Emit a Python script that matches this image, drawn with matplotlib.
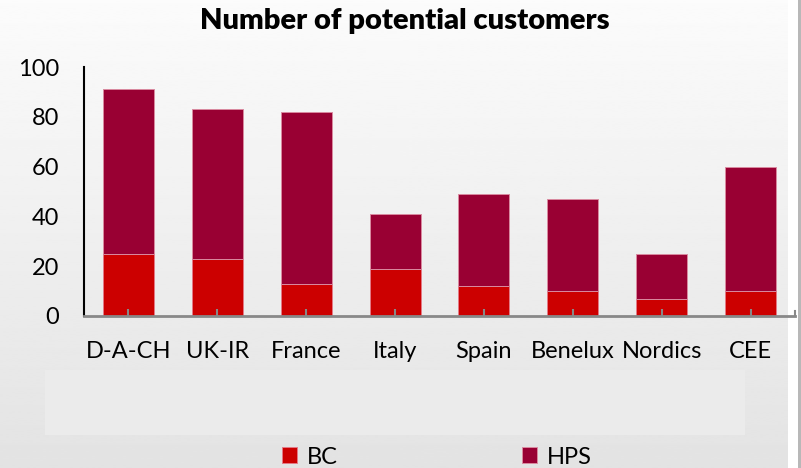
import numpy as np
import matplotlib
matplotlib.use("Agg")
from matplotlib import pyplot as plt
from matplotlib.patches import Rectangle

regions = ["D-A-CH", "UK-IR", "France", "Italy", "Spain", "Benelux", "Nordics", "CEE"]
bc = [25, 23, 13, 19, 12, 10, 7, 10]
hps = [66, 60, 69, 22, 37, 37, 18, 50]
y_ticks = [0, 20, 40, 60, 80, 100]

plt.rcParams['font.family'] = ['Lato', 'DejaVu Sans']

fig = plt.figure(figsize=(8.01, 4.68), dpi=100)

# background gradient (light at top, grey at bottom)
bg = fig.add_axes([0, 0, 788 / 801, 1], zorder=-10)
grad = np.linspace(0.985, 0.89, 256).reshape(-1, 1)
bg.imshow(grad, aspect='auto', cmap='gray', vmin=0, vmax=1, extent=[0, 1, 0, 1])
bg.axis('off')
fig.add_artist(Rectangle((798 / 801, 0), 3 / 801, 1, transform=fig.transFigure,
                         facecolor='#b8b8b8', edgecolor='none', zorder=-9))

# lighter box under the category labels
fig.add_artist(Rectangle((45 / 801, 1 - 435 / 468), 700 / 801, 65 / 468,
                         transform=fig.transFigure, facecolor='#ebebeb',
                         edgecolor='none', zorder=-5))

ax = fig.add_axes([84 / 801, 1 - 316 / 468, 711 / 801, 249 / 468])
ax.patch.set_alpha(0)

x = np.arange(len(regions))
w = 0.575
b1 = ax.bar(x, bc, w, color='#cc0000', edgecolor='#e47a86', linewidth=0.7, label='BC')
b2 = ax.bar(x, hps, w, bottom=bc, color='#990033', edgecolor='#d98aa0', linewidth=0.7, label='HPS')

ax.set_xlim(-0.5, len(regions) - 0.5)
ax.set_ylim(0, 100)
ax.set_yticks(y_ticks)
ax.set_xticks(x)
ax.set_xticklabels(regions)
ax.tick_params(axis='y', length=0, pad=18, labelsize=17)
ax.tick_params(axis='x', direction='in', length=5, width=1.5, color='#888888',
               pad=18, labelsize=17)
# tick at right end of axis
ax.plot([len(regions) - 0.5] * 2, [0, 2.2], color='#888888', lw=1.5, clip_on=False)

for s in ['top', 'right']:
    ax.spines[s].set_visible(False)
ax.spines['left'].set_linewidth(1.5)
ax.spines['left'].set_color('black')
ax.spines['bottom'].set_linewidth(2)
ax.spines['bottom'].set_color('#888888')

fig.text(0.505, 1 - 21 / 468, "Number of potential customers", ha='center', va='center',
         fontsize=21, fontweight='heavy')

fig.legend(handles=[b1, b2], labels=['BC', 'HPS'], loc='center',
           bbox_to_anchor=(437 / 801, 1 - 457 / 468), ncol=2, frameon=False,
           fontsize=17, handlelength=0.65, handleheight=0.65, handletextpad=0.4,
           columnspacing=7.8, borderpad=0)

fig.savefig("out.png", dpi=100)
